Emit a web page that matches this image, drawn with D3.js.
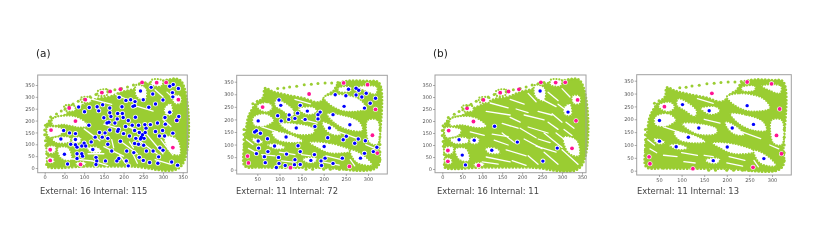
<!DOCTYPE html>
<html>
<head>
<meta charset="utf-8">
<script src="https://cdn.jsdelivr.net/npm/d3@7"></script>
<style>
body { margin: 0; background: #fff; }
svg { display: block; font-family: "DejaVu Sans", sans-serif; filter: blur(0.4px); }
</style>
</head>
<body>
<div id="chart"></div>
<script>
// values, all in data units
const ticksFull = [0, 50, 100, 150, 200, 250, 300, 350];
const ticksX2 = [50, 100, 150, 200, 250, 300];

// first geometry: 16 external points
const external16 = [[16,160],[62,253],[78,198],[103,288],[145,318],[166,323],[192,332],[247,361],[284,360],[308,361],[339,288],[335,201],[325,86],[14,77],[14,32],[91,15]];
const internal115 = [[243,325],[270,340],[317,345],[326,352],[339,335],[324,318],[325,300],[274,312],[189,298],[206,285],[218,288],[229,280],[228,263],[250,288],[300,287],[281,270],[264,256],[196,258],[224,260],[86,257],[113,255],[133,258],[147,267],[165,253],[101,237],[137,241],[165,233],[168,217],[150,212],[163,193],[185,230],[197,230],[199,213],[184,207],[178,190],[230,214],[212,200],[222,180],[254,183],[268,183],[286,190],[305,213],[317,235],[340,217],[335,200],[306,185],[299,158],[325,147],[281,154],[291,135],[304,135],[257,168],[255,150],[248,140],[238,180],[228,158],[240,150],[245,130],[252,125],[231,125],[243,122],[228,103],[238,100],[251,96],[258,72],[240,45],[250,32],[266,23],[287,20],[289,47],[292,85],[300,75],[275,72],[226,65],[208,72],[192,113],[160,100],[160,125],[146,130],[139,150],[153,148],[165,160],[158,190],[187,163],[205,175],[215,135],[200,145],[185,155],[112,180],[128,130],[104,93],[122,78],[118,110],[100,105],[94,93],[82,88],[78,98],[78,120],[78,145],[63,148],[41,122],[66,100],[48,158],[50,58],[58,17],[94,60],[82,60],[82,40],[96,50],[130,45],[154,30],[170,72],[183,30],[188,40],[207,30],[212,9],[132,30],[130,15],[322,25],[337,12]];
const internal11 = [[245,325],[315,237],[131,178],[188,112],[42,122],[80,120],[124,78],[50,58],[58,17],[252,33],[288,87]];

// second geometry: 11 external points
const external11 = [[245,345],[299,338],[167,301],[62,249],[317,240],[310,137],[321,66],[28,54],[30,27],[125,8],[258,13]];
const internal72 = [[256,320],[273,324],[279,316],[296,304],[273,297],[286,289],[226,298],[250,294],[305,264],[317,284],[292,245],[246,252],[99,277],[103,256],[147,256],[96,215],[104,194],[122,218],[121,200],[135,204],[141,225],[163,233],[158,200],[187,219],[192,229],[187,202],[221,219],[259,179],[52,194],[138,166],[180,172],[213,166],[44,150],[48,155],[57,145],[73,123],[52,114],[115,130],[209,127],[244,119],[251,133],[278,122],[270,105],[294,115],[53,86],[89,94],[74,72],[142,95],[147,72],[201,92],[48,64],[66,52],[68,28],[98,49],[116,62],[179,60],[99,25],[93,9],[113,17],[134,20],[135,40],[147,21],[171,37],[194,35],[195,17],[203,46],[221,25],[242,46],[283,46],[292,65],[312,72],[320,89]];
const internal13 = [[102,257],[161,233],[245,253],[51,195],[259,180],[138,166],[212,166],[115,130],[51,115],[88,93],[201,92],[170,39],[282,47]];

// loose boundary nodes
const boundary16 = [[15,215],[30,228],[42,240],[52,250],[62,262],[72,270],[85,282],[100,290],[115,300],[130,310],[145,318],[160,322],[178,330],[195,335],[210,342],[225,350],[240,355],[255,360],[2,180],[0,160],[0,140],[2,115],[3,95],[5,60],[350,300],[350,260],[350,220],[352,180],[350,150],[350,120],[350,90],[350,60],[350,30]];
const boundary11 = [[96,323],[110,325],[123,329],[139,332],[156,338],[172,340],[187,343],[203,345],[218,345],[232,347],[20,160],[20,140],[20,120],[20,100],[20,80],[20,60],[327,300],[327,270],[327,240],[327,200],[327,160],[327,130],[327,100],[327,70],[327,40],[160,2],[175,2],[200,2],[215,2],[235,2],[250,2],[270,2],[290,2],[305,2],[50,272],[40,262]];

const outline16 = [[6,8],[100,7],[220,7],[345,7],[345,368],[300,368],[250,350],[232,335],[195,320],[165,300],[130,290],[105,270],[75,250],[50,222],[25,212],[8,190],[5,120],[8,40]];
const outline11 = [[22,15],[60,10],[190,9],[320,10],[325,100],[325,345],[300,352],[250,352],[232,340],[222,312],[210,300],[190,268],[154,284],[116,297],[86,310],[67,323],[64,290],[45,257],[30,210],[24,145],[20,80]];

// open pockets of the first geometry
const holes16 = [
  [[20,208],[78,218],[112,178],[92,170],[48,182],[20,180]],
  [[6,172],[48,164],[40,138],[10,130]],
  [[18,125],[64,130],[66,110],[28,106]],
  [[69,128],[92,130],[90,106],[70,106]],
  [[107,86],[136,88],[146,66],[115,65]],
  [[32,84],[60,86],[68,34],[42,38]],
  [[6,90],[28,92],[26,64],[6,64]],
  [[6,45],[22,45],[24,22],[8,22]],
  [[80,24],[104,26],[104,12],[80,10]],
  [[232,350],[257,338],[255,282],[232,302]],
  [[272,372],[300,368],[296,345],[270,350]],
  [[303,253],[320,274],[324,224],[307,224]],
  [[303,135],[337,122],[343,54],[316,66]],
  [[50,262],[75,262],[78,242],[52,242]],
  [[92,296],[118,296],[118,278],[94,278]],
  [[135,325],[160,330],[158,308],[135,306]],
  [[325,305],[345,305],[345,272],[328,272]]
];
const slitsA = [[120,290,170,268],[180,310,208,290],[235,260,275,240],[280,330,300,300],[310,320,330,290],[150,185,190,165],[195,110,235,60],[240,115,285,60],[295,120,325,55],[260,140,300,60],[150,90,200,50],[110,60,150,60],[205,180,245,150],[100,165,140,115],[300,205,320,175],[120,30,160,10],[170,120,175,85],[215,110,225,85],[60,40,120,30],[190,55,205,20],[225,55,235,20],[280,35,320,15]];
const slitsB = [[110,240,170,225],[120,275,165,255],[170,290,205,270],[215,315,235,280],[250,290,285,260],[265,320,290,285],[300,335,320,300],[150,190,190,170],[205,225,255,205],[215,175,265,150],[275,230,300,195],[310,195,330,170],[150,150,180,110],[195,170,235,130],[205,125,250,85],[255,150,300,90],[285,150,320,105],[300,80,340,20],[235,95,285,70],[130,120,165,100],[160,80,210,55],[110,50,170,30],[215,55,240,20],[255,70,290,20],[70,155,105,140],[125,145,165,135],[185,250,215,235],[240,240,275,225],[170,215,195,195],[100,30,140,20],[175,35,210,15],[290,270,310,245],[265,195,290,165],[305,165,325,140],[240,125,270,110]];

// open pockets of the second geometry
const holes11 = [
  [[200,288],[229,301],[281,281],[296,243],[266,230],[237,236],[207,268]],
  [[207,223],[244,217],[281,191],[288,156],[259,156],[225,184]],
  [[196,191],[218,178],[240,139],[218,139],[200,166]],
  [[100,184],[141,184],[178,165],[178,145],[141,139],[115,158]],
  [[82,152],[118,145],[155,113],[133,106],[93,119]],
  [[166,109],[214,106],[266,74],[214,65],[185,87]],
  [[71,100],[96,104],[115,87],[93,80]],
  [[37,126],[60,119],[63,106],[45,104]],
  [[41,210],[70,223],[88,197],[66,171],[41,178]],
  [[48,255],[74,268],[85,249],[74,229],[56,236]],
  [[93,281],[133,236],[130,210],[104,236],[89,255]],
  [[141,243],[178,249],[185,230],[163,217]],
  [[299,197],[322,197],[322,100],[303,106],[296,152]],
  [[259,80],[288,61],[310,18],[273,29]],
  [[152,44],[185,48],[181,29],[159,29]],
  [[276,330],[320,330],[318,300],[296,310]],
  [[232,325],[262,330],[262,312],[234,310]]
];
const slits2 = [[25,120,40,100],[60,170,95,150],[150,200,185,185],[235,150,275,125],[60,60,90,55],[100,70,135,60],[105,35,130,30],[205,55,240,40],[150,60,170,55],[260,40,270,15],[200,30,235,18],[30,85,45,70],[295,100,315,85],[135,280,170,262]];

const panels = [
  { letter: "(a)", letterX: 36, caption: "External: 16 Internal: 115", capX: 40, x: [44.7, 182.7], y: [168, 85], box: [37.7, 75, 187.3, 172.7], xt: ticksFull, xd: [0, 350], ext: external16, int: internal115, outline: outline16, holes: holes16, slits: slitsA, dots: boundary16 },
  { caption: "External: 11 Internal: 72", capX: 236, x: [257.3, 368], y: [169.7, 81.7], box: [236.7, 75.3, 387.3, 174], xt: ticksX2, xd: [50, 300], ext: external11, int: internal72, outline: outline11, holes: holes11, slits: slits2, dots: boundary11 },
  { letter: "(b)", letterX: 433, caption: "External: 16 Internal: 11", capX: 437, x: [442.3, 582], y: [169, 85], box: [435, 75, 586, 172.7], xt: ticksFull, xd: [0, 350], ext: external16, int: internal11, outline: outline16, holes: holes16, slits: slitsB, dots: boundary16 },
  { caption: "External: 11 Internal: 13", capX: 637, x: [659, 772], y: [170.7, 80.7], box: [636.7, 74.7, 791.3, 175], xt: ticksX2, xd: [50, 300], ext: external11, int: internal13, outline: outline11, holes: holes11, slits: slits2, dots: boundary11 }
];

const green = "#9acd32";
const svg = d3.select("#chart").append("svg").attr("width", 830).attr("height", 244);

panels.forEach(function (p, idx) {
  let xScale = d3.scaleLinear().domain(p.xd).range(p.x);
  let yScale = d3.scaleLinear().domain([0, 350]).range(p.y);
  let g = svg.append("g").attr("id", "panel" + idx);
  g.append("rect")
    .attr("x", p.box[0]).attr("y", p.box[1])
    .attr("width", p.box[2] - p.box[0]).attr("height", p.box[3] - p.box[1])
    .style("fill", "#fff");

  let blob = d3.line().x(d => xScale(d[0])).y(d => yScale(d[1])).curve(d3.curveCatmullRomClosed);

  // scalloped edges, the mass is really a lot of round nodes
  g.append("path").datum(p.outline).attr("d", blob)
    .style("fill", green).style("stroke", green)
    .style("stroke-width", 3).style("stroke-linecap", "round").style("stroke-dasharray", "0 3.4");
  g.selectAll(".hole").data(p.holes).enter().append("path")
    .attr("class", "hole").attr("d", blob).style("fill", "#fff")
    .style("stroke", green).style("stroke-width", 2.2)
    .style("stroke-linecap", "round").style("stroke-dasharray", "0 2.8");
  g.selectAll(".slit").data(p.slits).enter().append("line")
    .attr("class", "slit")
    .attr("x1", d => xScale(d[0])).attr("y1", d => yScale(d[1]))
    .attr("x2", d => xScale(d[2])).attr("y2", d => yScale(d[3]))
    .style("stroke", "#fff").style("stroke-width", 1.3).style("stroke-linecap", "round");

  // white halo around every point
  g.selectAll(".halo").data(p.int.concat(p.ext)).enter().append("circle")
    .attr("class", "halo").attr("cx", d => xScale(d[0])).attr("cy", d => yScale(d[1]))
    .attr("r", 2.5).style("fill", "#fff");

  g.selectAll(".node").data(p.dots).enter().append("circle")
    .attr("class", "node").attr("cx", d => xScale(d[0])).attr("cy", d => yScale(d[1]))
    .attr("r", 1.5).style("fill", green);
  g.selectAll(".ext").data(p.ext).enter().append("circle")
    .attr("class", "ext").attr("cx", d => xScale(d[0])).attr("cy", d => yScale(d[1]))
    .attr("r", 1.9).style("fill", "#ff1493");
  g.selectAll(".int").data(p.int).enter().append("circle")
    .attr("class", "int").attr("cx", d => xScale(d[0])).attr("cy", d => yScale(d[1]))
    .attr("r", 1.7).style("fill", "#0000ff");

  // box and axes
  g.append("rect")
    .attr("x", p.box[0]).attr("y", p.box[1])
    .attr("width", p.box[2] - p.box[0]).attr("height", p.box[3] - p.box[1])
    .style("fill", "none").style("stroke", "#a0a0a0").style("stroke-width", 1);
  let xAxis = d3.axisBottom(xScale).tickValues(p.xt).tickSize(2).tickPadding(1);
  let yAxis = d3.axisLeft(yScale).tickValues(ticksFull).tickSize(2).tickPadding(1);
  let xg = g.append("g").attr("transform", "translate(0," + p.box[3] + ")").call(xAxis);
  let yg = g.append("g").attr("transform", "translate(" + p.box[0] + ",0)").call(yAxis);
  [xg, yg].forEach(function (a) {
    a.select(".domain").remove();
    a.selectAll("text").style("font-size", "5px").style("font-family", "DejaVu Sans").style("fill", "#555");
    a.selectAll("line").style("stroke", "#777").style("stroke-width", 0.6);
  });

  g.append("text").attr("x", p.capX).attr("y", 194)
    .style("font-size", "8.4px").style("fill", "#444").text(p.caption);
  if (p.letter) {
    g.append("text").attr("x", p.letterX).attr("y", 57)
      .style("font-size", "10.5px").style("fill", "#222").text(p.letter);
  }
});
</script>
</body>
</html>
